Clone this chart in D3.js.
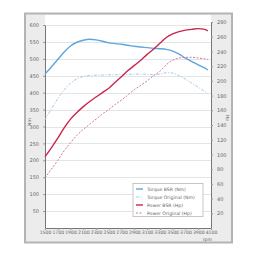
<!DOCTYPE html>
<html>
<head>
<meta charset="utf-8">
<script src="https://cdn.jsdelivr.net/npm/d3@7"></script>
<style>
  body { margin: 0; background: #fff; }
  text { font-family: "DejaVu Sans", sans-serif; }
</style>
</head>
<body>
<div id="chart"></div>
<script>
const rpm = [1500, 1600, 1700, 1800, 1900, 2000, 2100, 2200, 2300, 2400, 2500, 2600, 2700,
  2800, 2900, 3000, 3100, 3200, 3300, 3400, 3500, 3600, 3700, 3800, 3900, 4000, 4050];
const torqueBSR = [455, 476, 498, 520, 538, 549, 555, 558, 556, 552, 547, 545, 543,
  540, 537, 535, 533, 531, 530, 528, 523, 514, 502, 492, 482, 473, 467];
const torqueOrig = [320, 352, 382, 408, 428, 441, 448, 451, 452, 452, 453, 453, 453,
  454, 455, 455, 454, 453, 455, 459, 458, 450, 440, 428, 416, 404, 398];
const powerBSR = [97, 109, 122, 136, 148, 157, 165, 172, 178, 184, 190, 198, 206,
  214, 221, 228, 236, 243, 251, 259, 264, 267, 269, 270, 271, 270, 268];
const powerOrig = [68, 80, 92, 105, 116, 126, 134, 141, 148, 155, 161, 168, 174,
  181, 188, 194, 200, 207, 213, 222, 228, 231, 232, 232, 231, 230, 229];
const xTicks = [1500, 1700, 1900, 2100, 2300, 2500, 2700, 2900, 3100, 3300, 3500, 3700, 3900, 4100];
const nmTicks = [50, 100, 150, 200, 250, 300, 350, 400, 450, 500, 550, 600];
const hpTicks = [20, 40, 60, 80, 100, 120, 140, 160, 180, 200, 220, 240, 260, 280];
const legendLabels = ["Torque BSR (Nm)", "Torque Original (Nm)", "Power BSR (Hp)", "Power Original (Hp)"];

const W = 256, H = 256;
const plot = { left: 45, right: 211, top: 15, bottom: 228 };

const svg = d3.select("#chart").append("svg")
  .attr("width", W).attr("height", H);

// outer frame
svg.append("rect")
  .attr("x", 25).attr("y", 13.5).attr("width", 207).attr("height", 229)
  .attr("fill", "#ececec").attr("stroke", "#b4b4b4").attr("stroke-width", 2);

svg.append("rect")
  .attr("x", plot.left).attr("y", plot.top)
  .attr("width", plot.right - plot.left).attr("height", plot.bottom - plot.top)
  .attr("fill", "#fff");

const x = d3.scaleLinear().domain([1500, 4100]).range([plot.left, plot.right]);
const yNm = d3.scaleLinear().domain([0, 600]).range([plot.bottom, 25]);
const yHp = d3.scaleLinear().domain([0, 280]).range([plot.bottom, 22]);

// gridlines
svg.append("g").selectAll("line").data(nmTicks).join("line")
  .attr("x1", plot.left).attr("x2", plot.right)
  .attr("y1", d => Math.round(yNm(d)) + 0.5).attr("y2", d => Math.round(yNm(d)) + 0.5)
  .attr("stroke", "#e4e4e4").attr("stroke-width", 1);

const axisStyle = g => {
  g.select(".domain").attr("stroke", "#777");
  g.selectAll(".tick line").attr("stroke", "#999");
  g.selectAll(".tick text").attr("fill", "#666").style("font-size", "5px");
};

svg.append("g").attr("transform", `translate(${plot.left},0)`)
  .call(d3.axisLeft(yNm).tickValues(nmTicks).tickSize(2).tickSizeOuter(0).tickPadding(4))
  .call(axisStyle);

svg.append("g").attr("transform", `translate(${plot.right},0)`)
  .call(d3.axisRight(yHp).tickValues(hpTicks).tickSize(2).tickSizeOuter(0).tickPadding(4))
  .call(axisStyle);

svg.append("g").attr("transform", `translate(0,${plot.bottom})`)
  .call(d3.axisBottom(x).tickValues(xTicks).tickFormat(d3.format("d")).tickSize(2).tickSizeOuter(0).tickPadding(1))
  .call(axisStyle)
  .call(g => g.selectAll(".tick text").style("font-size", "4.6px"));

// axis titles
svg.append("text").attr("transform", "translate(31,122) rotate(-90)")
  .attr("text-anchor", "middle").attr("fill", "#666").style("font-size", "4.5px").text("Nm");
svg.append("text").attr("transform", "translate(226,118) rotate(90)")
  .attr("text-anchor", "middle").attr("fill", "#666").style("font-size", "4.5px").text("Hp");
svg.append("text").attr("x", 212).attr("y", 240.5)
  .attr("text-anchor", "end").attr("fill", "#666").style("font-size", "4.6px").text("rpm");

const series = [
  { values: torqueBSR, y: yNm, color: "#5ea6dc", dash: null, width: 1.4 },
  { values: torqueOrig, y: yNm, color: "#9fcde8", dash: "3,1.5,1,1.5", width: 1 },
  { values: powerBSR, y: yHp, color: "#c9254d", dash: null, width: 1.4 },
  { values: powerOrig, y: yHp, color: "#d07a96", dash: "2,1.5", width: 1 }
];

series.forEach(s => {
  const line = d3.line()
    .x((d, i) => x(rpm[i]))
    .y(d => s.y(d))
    .curve(d3.curveMonotoneX);
  svg.append("path").datum(s.values)
    .attr("d", line)
    .attr("fill", "none")
    .attr("stroke", s.color)
    .attr("stroke-width", s.width)
    .attr("stroke-dasharray", s.dash);
});

// legend
const legend = svg.append("g").attr("transform", "translate(133,183.5)");
legend.append("rect").attr("width", 70).attr("height", 33)
  .attr("fill", "#fff").attr("stroke", "#b8b8b8").attr("stroke-width", 0.8);
legendLabels.forEach((label, i) => {
  const row = legend.append("g").attr("transform", `translate(0,${5.5 + i * 8})`);
  row.append("line").attr("x1", 3).attr("x2", 10).attr("y1", 0).attr("y2", 0)
    .attr("stroke", series[i].color).attr("stroke-width", series[i].width)
    .attr("stroke-dasharray", series[i].dash);
  row.append("text").attr("x", 14).attr("y", 1.7)
    .attr("fill", "#666").style("font-size", "4.6px").text(label);
});
</script>
</body>
</html>
